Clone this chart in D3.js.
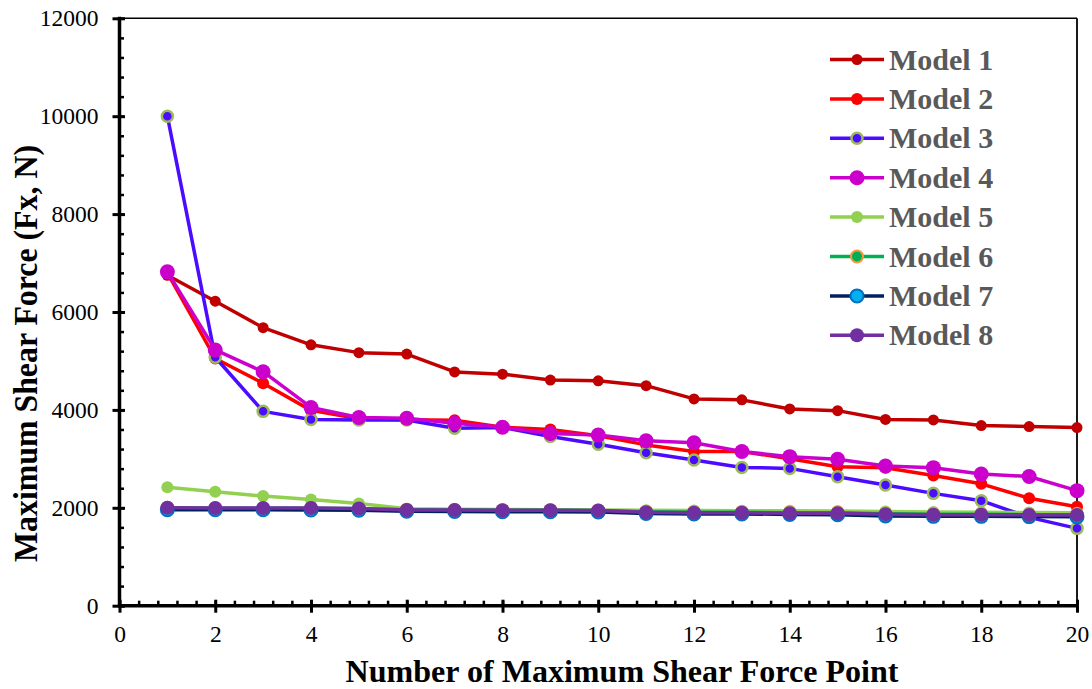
<!DOCTYPE html>
<html><head><meta charset="utf-8">
<script src="https://cdn.jsdelivr.net/npm/d3@7"></script>
<style>
html,body{margin:0;padding:0;background:#fff;}
svg{display:block;}
</style></head>
<body>
<svg id="chart" width="1092" height="689"></svg>
<script>
const points = d3.range(1, 21);
const model1 = [6750, 6220, 5680, 5330, 5170, 5140, 4775, 4730, 4610, 4595, 4495, 4225, 4205, 4020, 3985, 3805, 3795, 3680, 3660, 3640];
const model2 = [6800, 5050, 4545, 3990, 3820, 3800, 3790, 3645, 3600, 3470, 3285, 3150, 3150, 3000, 2840, 2820, 2660, 2490, 2195, 2020];
const model3 = [10000, 5075, 3970, 3805, 3795, 3795, 3625, 3640, 3455, 3300, 3125, 2975, 2825, 2805, 2635, 2465, 2295, 2145, 1805, 1580];
const model4 = [6820, 5225, 4780, 4050, 3845, 3830, 3725, 3645, 3520, 3485, 3370, 3330, 3150, 3045, 2990, 2855, 2820, 2690, 2640, 2350];
const model5 = [2420, 2330, 2240, 2170, 2090, 1980, 1970, 1965, 1960, 1955, 1950, 1945, 1940, 1940, 1935, 1925, 1915, 1910, 1905, 1900];
const model6 = [2000, 1990, 1990, 1990, 1980, 1960, 1955, 1950, 1950, 1945, 1920, 1910, 1910, 1900, 1900, 1880, 1870, 1870, 1860, 1860];
const model7 = [1960, 1960, 1960, 1955, 1950, 1930, 1925, 1920, 1920, 1915, 1885, 1875, 1875, 1865, 1860, 1835, 1825, 1825, 1820, 1815];
const model8 = [2000, 1995, 1995, 1995, 1985, 1955, 1955, 1950, 1950, 1945, 1910, 1900, 1900, 1890, 1890, 1870, 1860, 1860, 1855, 1855];
const seriesNames = ["Model 1","Model 2","Model 3","Model 4","Model 5","Model 6","Model 7","Model 8"];
const xTicks = [0,2,4,6,8,10,12,14,16,18,20];
const yTicks = [0,2000,4000,6000,8000,10000,12000];

const styles = [
  {line:"#C00000", fill:"#C00000", stroke:"#C00000", r:5.5, sw:0},
  {line:"#FF0000", fill:"#FF0000", stroke:"#FF0000", r:6, sw:0},
  {line:"#4A0BFF", fill:"#4A0BFF", stroke:"#9BBB59", r:5.5, sw:2.5},
  {line:"#CC00CC", fill:"#CC00CC", stroke:"#CC00CC", r:7.5, sw:0},
  {line:"#92D050", fill:"#92D050", stroke:"#92D050", r:6, sw:0},
  {line:"#00B050", fill:"#00B050", stroke:"#F79646", r:6, sw:2},
  {line:"#002060", fill:"#00B0F0", stroke:"#0070C0", r:6.5, sw:2},
  {line:"#7030A0", fill:"#7030A0", stroke:"#7030A0", r:7, sw:0}
];
const allSeries = [model1, model2, model3, model4, model5, model6, model7, model8];

const svg = d3.select("#chart");
const x = d3.scaleLinear().domain([0,20]).range([119.5,1077]);
const y = d3.scaleLinear().domain([0,12000]).range([605.7,18.3]);
const font = "'Liberation Serif','Times New Roman',serif";

// frame (top & right thin)
svg.append("line").attr("x1",x(0)).attr("x2",x(20)).attr("y1",y(12000)).attr("y2",y(12000)).attr("stroke","#000").attr("stroke-width",1.5);
svg.append("line").attr("x1",x(20)).attr("x2",x(20)).attr("y1",y(12000)).attr("y2",y(0)).attr("stroke","#000").attr("stroke-width",1.8);

// Y axis
const yMinor = d3.range(0, 12001, 400);
const gy = svg.append("g").attr("transform",`translate(${x(0)},0)`);
gy.append("g").call(d3.axisLeft(y).tickValues(yMinor).tickSize(-4.5).tickFormat("")).call(g=>g.select(".domain").remove())
  .selectAll("line").attr("stroke","#000").attr("stroke-width",2.5);
gy.append("g").call(d3.axisLeft(y).tickValues(yTicks).tickSize(7).tickFormat("")).call(g=>g.select(".domain").remove())
  .selectAll("line").attr("stroke","#000").attr("stroke-width",3);
gy.append("g").call(d3.axisLeft(y).tickValues(yTicks).tickSize(-5.5).tickFormat("")).call(g=>g.select(".domain").remove())
  .selectAll("line").attr("stroke","#000").attr("stroke-width",3);
gy.append("g").call(d3.axisLeft(y).tickValues(yTicks).tickSize(0).tickPadding(21).tickFormat(d3.format("d")))
  .call(g=>g.select(".domain").remove())
  .attr("font-family",font)
  .selectAll("text").attr("font-family",font).attr("font-size",23.5).attr("fill","#000");
gy.append("line").attr("x1",0).attr("x2",0).attr("y1",y(12000)-1.5).attr("y2",y(0)+1.5).attr("stroke","#000").attr("stroke-width",3.5);

// X axis
const xMinor = d3.range(0, 20.001, 0.4);
const gx = svg.append("g").attr("transform",`translate(0,${y(0)})`);
gx.append("g").call(d3.axisBottom(x).tickValues(xMinor).tickSize(-5).tickFormat("")).call(g=>g.select(".domain").remove())
  .selectAll("line").attr("stroke","#000").attr("stroke-width",2.5);
gx.append("g").call(d3.axisBottom(x).tickValues(xTicks).tickSize(7).tickFormat("")).call(g=>g.select(".domain").remove())
  .selectAll("line").attr("stroke","#000").attr("stroke-width",3);
gx.append("g").call(d3.axisBottom(x).tickValues(xTicks).tickSize(-6).tickFormat("")).call(g=>g.select(".domain").remove())
  .selectAll("line").attr("stroke","#000").attr("stroke-width",3);
gx.append("g").call(d3.axisBottom(x).tickValues(xTicks).tickSize(0).tickPadding(20).tickFormat(d3.format("d")))
  .call(g=>g.select(".domain").remove())
  .attr("font-family",font)
  .selectAll("text").attr("font-family",font).attr("font-size",23.5).attr("fill","#000");
gx.append("line").attr("x1",x(0)-1.5).attr("x2",x(20)+1).attr("y1",0).attr("y2",0).attr("stroke","#000").attr("stroke-width",3.5);

// Axis titles
svg.append("text").attr("x",622).attr("y",681.5).attr("text-anchor","middle")
  .attr("font-family",font).attr("font-weight","bold").attr("font-size",31.5).attr("fill","#000")
  .attr("textLength",553).attr("lengthAdjust","spacingAndGlyphs")
  .text("Number of Maximum Shear Force Point");
svg.append("text").attr("transform",`translate(37,353.5) rotate(-90)`).attr("text-anchor","middle")
  .attr("font-family",font).attr("font-weight","bold").attr("font-size",33.5).attr("fill","#000")
  .attr("textLength",417).attr("lengthAdjust","spacingAndGlyphs")
  .text("Maximum Shear Force (Fx, N)");

// Series
const line = d3.line().x((d,i)=>x(points[i])).y(d=>y(d));
allSeries.forEach((vals, si)=>{
  const st = styles[si];
  const g = svg.append("g");
  g.append("path").datum(vals).attr("d",line).attr("fill","none").attr("stroke",st.line).attr("stroke-width",3.5).attr("stroke-linejoin","round");
  g.selectAll("circle").data(vals).join("circle")
    .attr("cx",(d,i)=>x(points[i])).attr("cy",d=>y(d)).attr("r",st.r)
    .attr("fill",st.fill).attr("stroke",st.stroke).attr("stroke-width",st.sw);
});

// Legend
const leg = svg.append("g");
seriesNames.forEach((name, i)=>{
  const st = styles[i];
  const cy = 59.5 + i*39.4;
  leg.append("line").attr("x1",830).attr("x2",884).attr("y1",cy).attr("y2",cy).attr("stroke",st.line).attr("stroke-width",3.5);
  leg.append("circle").attr("cx",857).attr("cy",cy).attr("r",st.r).attr("fill",st.fill).attr("stroke",st.stroke).attr("stroke-width",st.sw);
  leg.append("text").attr("x",889).attr("y",cy+10).attr("font-family",font).attr("font-weight","bold")
    .attr("font-size",30).attr("fill","#595959").text(name);
});
</script>
</body></html>
